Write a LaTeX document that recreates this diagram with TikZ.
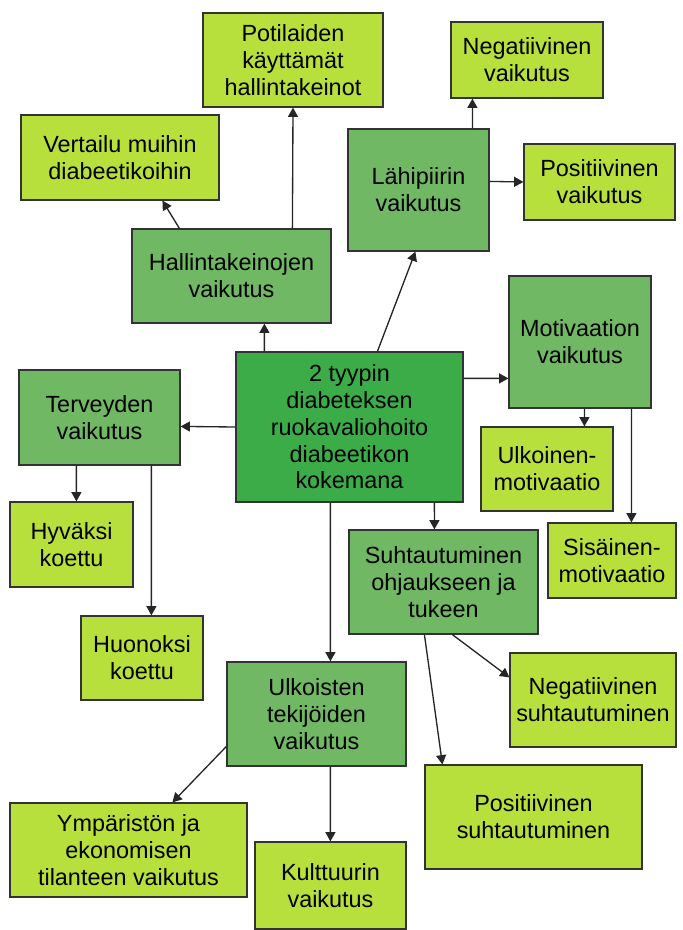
\documentclass[tikz,border=0pt]{standalone}
\usepackage{fontspec}
\setmainfont{Liberation Sans}
\usepackage{tikz}
\usetikzlibrary{arrows.meta,calc}
\usepackage{xcolor}
\definecolor{coreGreen}{HTML}{3CAC48}
\definecolor{midGreen}{HTML}{70B864}
\definecolor{limeGreen}{HTML}{B8E03C}
\definecolor{edgeGray}{HTML}{333333}

\begin{document}
\begin{tikzpicture}[x=1pt, y=-1pt, scale=0.75, every node/.style={scale=0.75},
    box/.style={draw=edgeGray, line width=1.2pt, align=center, inner sep=2pt,
      font=\fontsize{23.4}{26.8}\selectfont},
    mainbox/.style={box, fill=coreGreen},
    themebox/.style={box, fill=midGreen},
    subbox/.style={box, fill=limeGreen},
    arr/.style={-{Triangle[length=7pt, width=7.5pt]}, line width=1pt, draw=black!85}]
  \useasboundingbox (0,0) rectangle (682,930);
  % --- Core node ---
  \node[mainbox, minimum width=227pt, minimum height=150pt] (cent) at (349.5,427)
    {2 tyypin\\diabeteksen\\ruokavaliohoito\\diabeetikon\\kokemana};
  % --- Themes ---
  \node[themebox, minimum width=199pt, minimum height=94pt] (hall) at (231.5,276)
    {Hallintakeinojen\\vaikutus};
  \node[themebox, minimum width=141pt, minimum height=122pt] (lahi) at (418.5,190)
    {Lähipiirin\\vaikutus};
  \node[themebox, minimum width=142pt, minimum height=132pt] (moti) at (580,342)
    {Motivaation\\vaikutus};
  \node[themebox, minimum width=161pt, minimum height=95pt] (terv) at (99.5,417.5)
    {Terveyden\\vaikutus};
  \node[themebox, minimum width=189pt, minimum height=104pt] (suht) at (443.5,582)
    {Suhtautuminen\\ohjaukseen ja\\tukeen};
  \node[themebox, minimum width=179pt, minimum height=104pt] (ulkt) at (316.5,714)
    {Ulkoisten\\tekijöiden\\vaikutus};
  % --- Sub-themes ---
  \node[subbox, minimum width=180pt, minimum height=94pt] (pot) at (293,60)
    {Potilaiden\\käyttämät\\hallintakeinot};
  \node[subbox, minimum width=198pt, minimum height=85pt] (vert) at (120,157.5)
    {Vertailu muihin\\diabeetikoihin};
  \node[subbox, minimum width=152pt, minimum height=76pt] (neg1) at (527,60)
    {Negatiivinen\\vaikutus};
  \node[subbox, minimum width=151pt, minimum height=76pt] (pos1) at (599.5,182)
    {Positiivinen\\vaikutus};
  \node[subbox, minimum width=132pt, minimum height=84pt] (ulko) at (547,469)
    {Ulkoinen-\\motivaatio};
  \node[subbox, minimum width=128pt, minimum height=75pt] (sisa) at (612,560.5)
    {Sisäinen-\\motivaatio};
  \node[subbox, minimum width=123pt, minimum height=85pt] (hyva) at (71.5,544.5)
    {Hyväksi\\koettu};
  \node[subbox, minimum width=122pt, minimum height=84pt] (huon) at (142,658)
    {Huonoksi\\koettu};
  \node[subbox, minimum width=166pt, minimum height=94pt] (negs) at (593,700)
    {Negatiivinen\\suhtautuminen};
  \node[subbox, minimum width=217pt, minimum height=104pt] (poss) at (533.5,817)
    {Positiivinen\\suhtautuminen};
  \node[subbox, minimum width=237pt, minimum height=94pt] (ympa) at (128.5,850)
    {Ympäristön ja\\ekonomisen\\tilanteen vaikutus};
  \node[subbox, minimum width=151pt, minimum height=87pt] (kult) at (330.5,885.5)
    {Kulttuurin\\vaikutus};
  % --- Arrows from the core ---
  \draw[arr] ($(cent.north west)+(29,0)$) -- ($(hall.south west)+(133,0)$);
  \draw[arr] ($(cent.north west)+(142,0)$) -- ($(lahi.south west)+(68,0)$);
  \draw[arr] ($(cent.north east)+(0,27)$) -- ($(moti.north west)+(0,103)$);
  \draw[arr] (cent.west) -- ($(terv.north east)+(0,57)$);
  \draw[arr] ($(cent.south west)+(199,0)$) -- ($(suht.north west)+(86,0)$);
  \draw[arr] ($(cent.south west)+(95,0)$) -- ($(ulkt.north west)+(104,0)$);
  % --- Arrows from the themes ---
  \draw[arr] ($(hall.north west)+(161,0)$) -- (pot.south);
  \draw[arr] ($(hall.north west)+(48,0)$) -- ($(vert.south west)+(142,0)$);
  \draw[arr] ($(lahi.north west)+(125,0)$) -- ($(neg1.south west)+(22,0)$);
  \draw[arr] ($(lahi.north east)+(0,53)$) -- (pos1.west);
  \draw[arr] ($(moti.south west)+(76,0)$) -- ($(ulko.north west)+(104,0)$);
  \draw[arr] ($(moti.south west)+(123,0)$) -- ($(sisa.north west)+(84,0)$);
  \draw[arr] ($(terv.south west)+(58,0)$) -- ($(hyva.north west)+(67,0)$);
  \draw[arr] ($(terv.south west)+(133,0)$) -- ($(huon.north west)+(71,0)$);
  \draw[arr] ($(suht.south west)+(104,0)$) -- ($(negs.north west)+(0,25)$);
  \draw[arr] ($(suht.south west)+(76,0)$) -- ($(poss.north west)+(18,0)$);
  \draw[arr] ($(ulkt.north west)+(0,85)$) -- ($(ympa.north west)+(163,0)$);
  \draw[arr] ($(ulkt.south west)+(104,0)$) -- ($(kult.north west)+(76,0)$);
\end{tikzpicture}
\end{document}
